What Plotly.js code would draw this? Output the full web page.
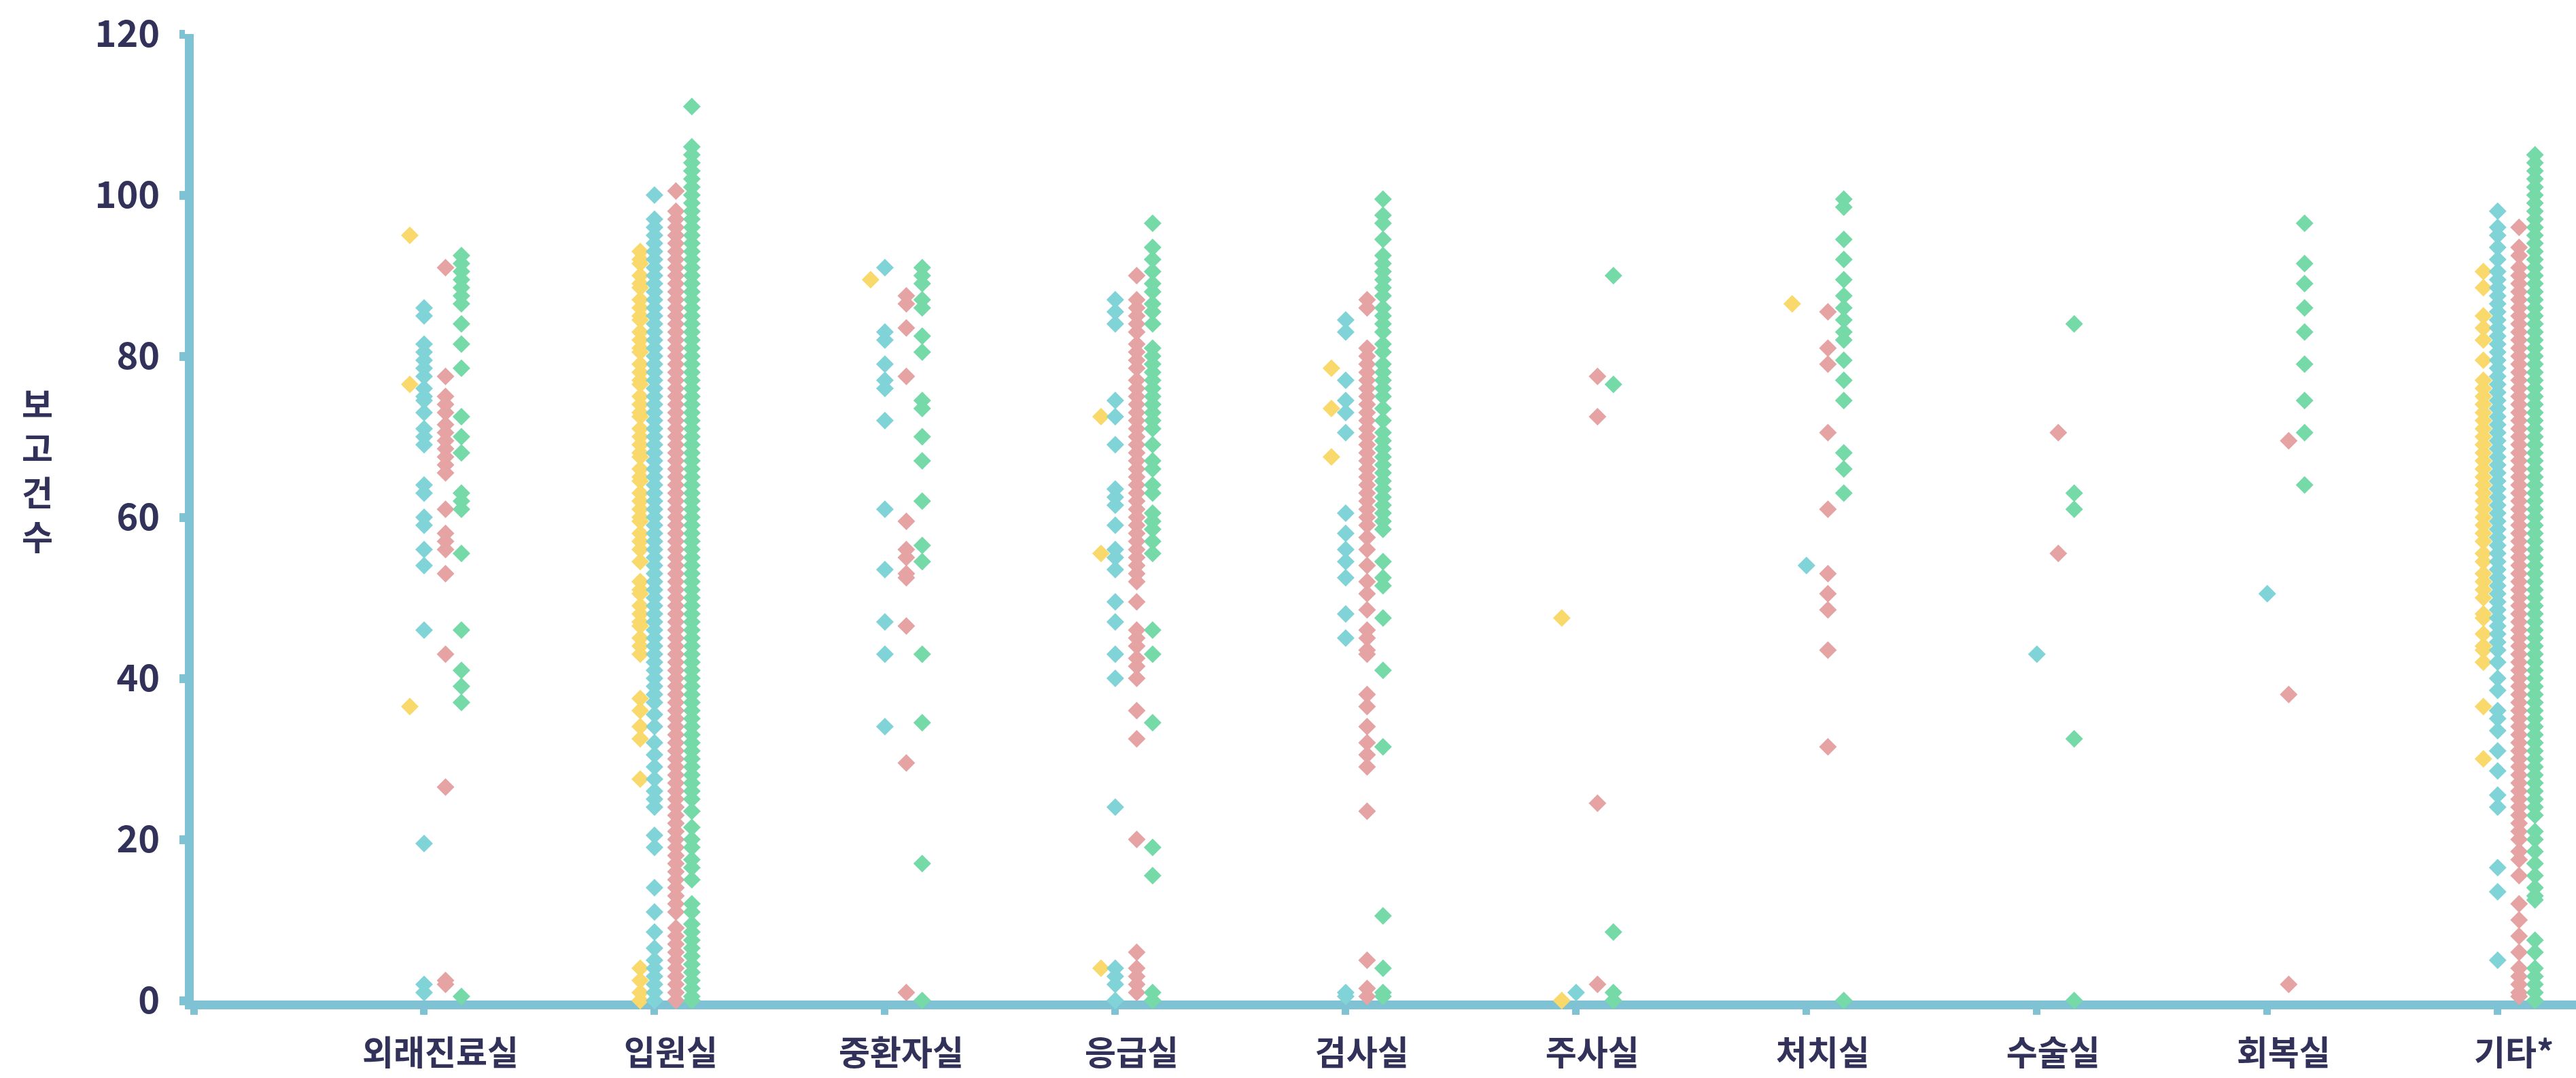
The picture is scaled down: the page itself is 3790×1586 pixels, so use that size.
<!DOCTYPE html>
<html>
<head>
<meta charset="utf-8">
<script src="https://cdn.plot.ly/plotly-3.0.1.min.js"></script>
<style>html,body{margin:0;padding:0;background:#fff}#chart{width:3790px;height:1586px}</style>
</head>
<body>
<div id="chart"></div>
<script>
// ---------- DATA ----------
const categories = ['외래진료실','입원실','중환자실','응급실','검사실','주사실','처치실','수술실','회복실','기타*'];
const yTickValues = [0, 20, 40, 60, 80, 100, 120];
const yAxisTitle = '보고건수';

// values per category, in category order
const yellowValues = [
  [95, 76.5, 36.5],
  [93, 92, 91.5, 90, 89, 88.5, 87, 86, 85, 84.5, 83, 82, 81, 80.5, 79, 78, 77, 76.5, 75, 74, 73, 72.5, 71, 70, 69, 68, 67.5, 66, 65, 64.5, 63, 62, 61, 60, 59.5, 58, 57, 56, 54.5, 52, 51, 50.5, 49, 48, 47, 46.5, 45, 44, 43, 37.5, 36, 34, 32.5, 27.5, 4, 2.5, 1, 0],
  [89.5],
  [72.5, 55.5, 4],
  [78.5, 73.5, 67.5],
  [47.5, 0],
  [86.5],
  [],
  [],
  [90.5, 88.5, 85, 83.5, 82, 79.5, 77, 76, 75, 74, 73, 72, 71, 70, 69, 68, 67, 66, 65, 64, 63, 62, 61, 60, 59, 58, 57, 55.5, 54.5, 53, 52, 51, 50, 48, 47.5, 45.5, 44, 43.5, 42, 36.5, 30]
];
const cyanValues = [
  [86, 85, 81.5, 80.5, 79.5, 78.5, 77.5, 76, 75, 74.5, 73, 71, 70, 69, 64, 63, 60, 59, 56, 54, 46, 19.5, 2, 1],
  [100, 97, 96, 95, 94, 93, 92, 91, 90, 89, 88, 87, 86, 85, 84, 83, 82, 81, 80, 79, 78, 77, 76, 75, 74, 73, 72, 71, 70, 69, 68, 67, 66, 65, 64, 63, 62, 61, 60, 59, 58, 57, 56, 55, 54, 53, 52, 51, 50, 49, 48, 47, 46, 45, 44, 43, 42, 41, 40, 39, 38, 37, 35.5, 34, 32, 30.5, 29, 27.5, 26, 25, 24, 20.5, 19, 14, 11, 8.5, 6.5, 5, 4, 3, 2, 1, 0],
  [91, 83, 82, 79, 77, 76, 72, 61, 53.5, 47, 43, 34],
  [87, 85.5, 84, 74.5, 72.5, 69, 63.5, 62.5, 61.5, 59, 56, 55, 53.5, 49.5, 47, 43, 40, 24, 4, 3, 2, 0],
  [84.5, 83, 77, 74.5, 73, 70.5, 60.5, 58, 56, 54.5, 52.5, 48, 45, 1, 0.5],
  [1],
  [54],
  [43],
  [50.5],
  [98, 96, 95, 93.5, 92, 90.5, 89.5, 88.5, 87.5, 86.5, 85.5, 84.5, 83.5, 82.5, 81.5, 80.5, 79.5, 78.5, 77.5, 76.5, 75.5, 74.5, 73.5, 72.5, 71.5, 70.5, 69.5, 68.5, 67.5, 66.5, 65.5, 64.5, 63.5, 62.5, 61.5, 60.5, 59.5, 58.5, 57.5, 56.5, 55.5, 54.5, 53.5, 52.5, 51.5, 50.5, 49.5, 48.5, 47.5, 46.5, 45.5, 44.5, 43.5, 42, 40, 38.5, 36, 35, 33.5, 31, 28.5, 25.5, 24, 16.5, 13.5, 5]
];
const pinkValues = [
  [91, 77.5, 75, 74, 73, 71.5, 70.5, 69.5, 68.5, 67.5, 66.5, 65.5, 61, 58, 57, 56, 53, 43, 26.5, 2.5, 2],
  [100.5, 98, 97, 96, 95, 94, 93, 92, 91, 90, 89, 88, 87, 86, 85, 84, 83, 82, 81, 80, 79, 78, 77, 76, 75, 74, 73, 72, 71, 70, 69, 68, 67, 66, 65, 64, 63, 62, 61, 60, 59, 58, 57, 56, 55, 54, 53, 52, 51, 50, 49, 48, 47, 46, 45, 44, 43, 42, 41, 40, 39, 38, 37, 36, 35, 34, 33, 32, 31, 30, 29, 28, 27, 26, 25, 24, 23, 22, 21, 20, 19, 18, 17, 16, 15, 14, 13, 12, 11, 9, 8, 7, 6, 5, 4, 3, 2, 1, 0],
  [87.5, 86.5, 83.5, 77.5, 59.5, 56, 55, 53, 52.5, 46.5, 29.5, 1],
  [90, 87, 86, 85, 84, 83, 81.5, 80.5, 79.5, 78.5, 77, 76, 75, 74, 73, 72, 71, 70, 69, 68, 67, 66, 65, 64, 63, 62, 61, 60, 59, 58, 57, 56, 55, 54, 53, 52, 49.5, 46, 45, 44, 42.5, 41.5, 40, 36, 32.5, 20, 6, 4, 3, 2, 1],
  [87, 86, 81, 80, 79, 78, 77, 76, 75, 74, 73, 72, 71, 70, 69, 68, 67, 66, 65, 64, 63, 62, 61, 60, 59, 57.5, 56, 54, 52, 50.5, 48.5, 46, 45, 43.5, 43, 38, 36.5, 34, 32, 30.5, 29, 23.5, 5, 1.5, 0.5],
  [77.5, 72.5, 24.5, 2],
  [85.5, 81, 79, 70.5, 61, 53, 50.5, 48.5, 43.5, 31.5],
  [70.5, 55.5],
  [69.5, 38, 2],
  [96, 93.5, 92.5, 91, 90, 89, 88, 87, 86, 85, 84, 83, 82, 81, 80, 79, 78, 77, 76, 75, 74, 73, 72, 71, 70, 69, 68, 67, 66, 65, 64, 63, 62, 61, 60, 59, 58, 57, 56, 55, 54, 53, 52, 51, 50, 49, 48, 47, 46, 45, 44, 43, 42, 41, 40, 39, 38, 37, 36, 35, 34, 33, 32, 31, 30, 29, 28, 27, 26, 25, 24, 23, 22, 21, 20, 18.5, 17.5, 15.5, 12, 10, 8, 6, 4, 3, 2, 1, 0.5]
];
const greenValues = [
  [92.5, 91.5, 90.5, 89.5, 88.5, 87.5, 86.5, 84, 81.5, 78.5, 72.5, 70, 68, 63, 62, 61, 55.5, 46, 41, 39, 37, 0.5],
  [111, 106, 105, 104, 103, 102, 101, 100, 99, 98, 97, 96, 95, 94, 93, 92, 91, 90, 89, 88, 87, 86, 85, 84, 83, 82, 81, 80, 79, 78, 77, 76, 75, 74, 73, 72, 71, 70, 69, 68, 67, 66, 65, 64, 63, 62, 61, 60, 59, 58, 57, 56, 55, 54, 53, 52, 51, 50, 49, 48, 47, 46, 45, 44, 43, 42, 41, 40, 39, 38, 37, 36, 35, 34, 33, 32, 31, 30, 29, 28, 27, 26, 25, 23.5, 21.5, 20, 19, 17.5, 16.5, 15, 12, 11, 9.5, 8.5, 7.5, 6.5, 5.5, 4.5, 3.5, 2.5, 1.5, 0.5, 0],
  [91, 90, 89, 87, 86, 82.5, 80.5, 74.5, 73.5, 70, 67, 62, 56.5, 54.5, 43, 34.5, 17, 0],
  [96.5, 93.5, 92, 90.5, 89, 88, 86.5, 85.5, 84, 81, 80, 79, 78, 77, 76, 75, 74, 73, 72, 71, 69, 67, 66, 64, 63, 60.5, 59.5, 58.5, 57, 55.5, 46, 43, 34.5, 19, 15.5, 1, 0],
  [99.5, 97.5, 96.5, 94.5, 92.5, 91.5, 90.5, 89.5, 88.5, 87.5, 86, 85, 84, 83, 81.5, 80.5, 79, 78, 77, 76, 75, 73.5, 72, 70.5, 69.5, 68.5, 67.5, 66.5, 65.5, 64.5, 63.5, 62.5, 61.5, 60.5, 59.5, 58.5, 54.5, 52.5, 51.5, 47.5, 41, 31.5, 10.5, 4, 1, 0.5],
  [90, 76.5, 8.5, 1, 0],
  [99.5, 98.5, 94.5, 92, 89.5, 87.5, 86, 84.5, 83, 82, 79.5, 77, 74.5, 68, 66, 63, 0],
  [84, 63, 61, 32.5, 0],
  [96.5, 91.5, 89, 86, 83, 79, 74.5, 70.5, 64],
  [105, 104, 103, 102, 101, 100, 99, 98, 97, 96, 95, 94, 93, 92, 91, 90, 89, 88, 87, 86, 85, 84, 83, 82, 81, 80, 79, 78, 77, 76, 75, 74, 73, 72, 71, 70, 69, 68, 67, 66, 65, 64, 63, 62, 61, 60, 59, 58, 57, 56, 55, 54, 53, 52, 51, 50, 49, 48, 47, 46, 45, 44, 43, 42, 41, 40, 39, 38, 37, 36, 35, 34, 33, 32, 31, 30, 29, 28, 27, 26, 25, 24, 23, 21, 20, 18.5, 17, 15.5, 14, 13, 12.5, 7.5, 6, 4, 3, 2, 1, 0]
];

// ---------- STYLE ----------
const AXIS = '#7fc2d3';
const TEXT = '#32315a';
const FONT = '"Noto Sans CJK KR", "Noto Sans", sans-serif';

function strip(values, offset, color) {
  const x = [], y = [];
  values.forEach((arr, i) => arr.forEach(v => { x.push(i + offset); y.push(v); }));
  return {
    type: 'scatter', mode: 'markers', x: x, y: y, cliponaxis: false, hoverinfo: 'skip', showlegend: false,
    marker: { symbol: 'diamond', size: 20, color: color, line: { width: 0 } }
  };
}

const data = [
  strip(yellowValues, -0.062, '#f9d96c'),
  strip(cyanValues, 0, '#80d3d7'),
  strip(pinkValues, 0.093, '#e5a3a3'),
  strip(greenValues, 0.162, '#76d9a8')
];

const tickvals = [-1].concat(categories.map((c, i) => i));
const ticktext = [''].concat(categories);

const layout = {
  width: 3790, height: 1586,
  margin: { l: 285, r: 0, t: 50, b: 114 },
  paper_bgcolor: '#ffffff', plot_bgcolor: '#ffffff',
  xaxis: {
    type: 'linear', range: [-1, 9.34], tickmode: 'array', tickvals: tickvals, ticktext: ticktext,
    showgrid: false, zeroline: false, showline: true, linecolor: AXIS, linewidth: 13,
    ticks: 'outside', ticklen: 8, tickwidth: 11, tickcolor: AXIS, layer: 'below traces',
    ticklabelshift: 24, ticklabelstandoff: 14,
    tickfont: { family: FONT, size: 50, color: TEXT, weight: 'bold' }
  },
  yaxis: {
    range: [0, 120], tickmode: 'array', tickvals: yTickValues,
    showgrid: false, zeroline: false, showline: true, linecolor: AXIS, linewidth: 13,
    ticks: 'outside', ticklen: 8, tickwidth: 13, tickcolor: AXIS, layer: 'below traces',
    ticklabelstandoff: 18,
    tickfont: { family: FONT, size: 54, color: TEXT, weight: 'bold' }
  },
  annotations: [{
    text: yAxisTitle.split('').join('<br>'),
    xref: 'paper', yref: 'paper', x: -0.0655, y: 0.5506, xanchor: 'center', yanchor: 'middle',
    showarrow: false, align: 'center',
    font: { family: FONT, size: 50, color: TEXT, weight: 'bold' }
  }]
};

Plotly.newPlot('chart', data, layout, { staticPlot: true, displayModeBar: false });
</script>
</body>
</html>
